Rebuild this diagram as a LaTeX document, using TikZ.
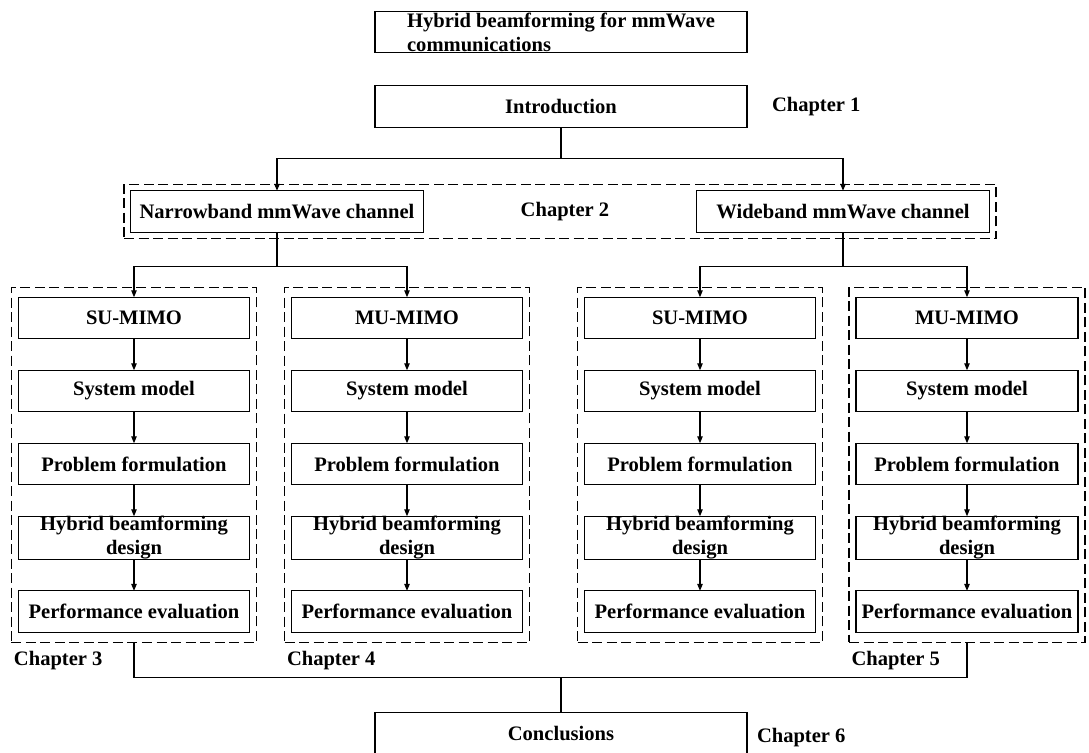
\documentclass[tikz,border=0pt]{standalone}
\usepackage{fontspec}
\setmainfont{Liberation Serif}
\usetikzlibrary{arrows.meta,positioning,fit,calc}

\begin{document}
\begin{tikzpicture}[
    font=\fontsize{11.7}{13.7}\selectfont\bfseries, % bold serif text
    line width=0.6pt,
    >={Triangle[length=1.4mm, width=1.1mm]}, % small filled arrow tips
    outer sep=0pt,
    % --- styles ---
    % plain box
    base box/.style={
        draw=black,
        fill=white,
        align=center,
        minimum height=0.83cm,
        inner sep=2pt
    },
    % wide boxes in the middle
    main box/.style={base box, minimum width=7.44cm},
    channel box/.style={base box, minimum width=5.86cm},
    step box/.style={base box, minimum width=#1},
    step box/.default=4.62cm,
    % two-line text that runs over the frame
    tight box/.style={inner ysep=0pt},
    % dashed chapter frames
    group frame/.style={
        draw=black,
        dash pattern=on 2mm off 0.9mm,
        inner sep=0pt
    },
    % chapter labels
    chap label/.style={inner sep=0pt}
]

    % fixed page size
    \useasboundingbox (0,0) rectangle (21.78,-15.06);

    % ====== top: title and introduction ======
    \node[main box, tight box, align=left] (title) at (11.22,-0.64) {Hybrid beamforming for mmWave\\communications};
    \node[main box, below=0.66cm of title] (intro) {Introduction};
    \node[chap label, right=0.5cm of intro] (ch1) {Chapter 1};

    % ====== chapter 2: channel models ======
    \node[channel box] (narrow) at (5.54,-4.23) {Narrowband mmWave channel};
    \node[channel box] (wide) at (16.86,-4.23) {Wideband mmWave channel};
    \node[chap label] (ch2) at (11.3,-4.24) {Chapter 2};
    \node[group frame, inner sep=0.13cm, fit=(narrow)(wide)] (f0) {};

    \coordinate[below=0.62cm of intro.south] (split1);
    \draw (intro.south) -- (split1);
    \draw[->] (split1) -| (narrow.north);
    \draw[->] (split1) -| (wide.north);

    % ====== chapters 3-5: four design columns ======
    \foreach \col/\x/\w/\mimo in {1/2.68/4.62/SU, 2/8.14/4.62/MU, 3/14.0/4.62/SU, 4/19.34/4.44/MU} {
        \node[step box=\w cm] (m\col) at (\x,-6.36) {\mimo-MIMO};
        \node[step box=\w cm, below=0.63cm of m\col] (s\col) {System model};
        \node[step box=\w cm, below=0.63cm of s\col] (p\col) {Problem formulation};
        \node[step box=\w cm, tight box, below=0.63cm of p\col] (h\col) {Hybrid beamforming\\design};
        \node[step box=\w cm, below=0.63cm of h\col] (e\col) {Performance evaluation};
        \draw[->] (m\col) -- (s\col);
        \draw[->] (s\col) -- (p\col);
        \draw[->] (p\col) -- (h\col);
        \draw[->] (h\col) -- (e\col);
        \node[group frame, inner xsep=0.14cm, inner ysep=0.2cm, fit=(m\col)(e\col)] (f\col) {};
    }

    \foreach \col/\n in {1/3, 2/4, 4/5}
        \node[chap label, below right=0.18cm and 0.05cm of f\col.south west] (ch\n) {Chapter \n};

    \coordinate[below=0.68cm of narrow.south] (split2);
    \coordinate[below=0.68cm of wide.south] (split3);
    \draw (narrow.south) -- (split2);
    \draw (wide.south) -- (split3);
    \draw[->] (split2) -| (m1.north);
    \draw[->] (split2) -| (m2.north);
    \draw[->] (split3) -| (m3.north);
    \draw[->] (split3) -| (m4.north);

    % ====== chapter 6: conclusions ======
    \node[main box] (concl) at (11.22,-14.66) {Conclusions};
    \node[chap label, right=0.2cm of concl, yshift=-0.1cm] (ch6) {Chapter 6};

    \coordinate[below=0.7cm of f1.south] (join);
    \draw (f1.south) -- (join) -- (join -| f4.south) -- (f4.south);
    \draw (concl.north |- join) -- (concl.north);

\end{tikzpicture}
\end{document}
